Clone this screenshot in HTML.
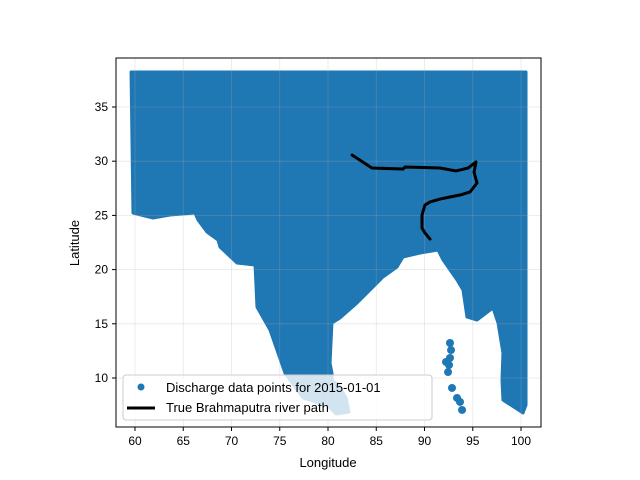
<!DOCTYPE html>
<html><head><meta charset="utf-8"><style>
body{margin:0;background:#fff;}
svg{display:block;font-family:"Liberation Sans","DejaVu Sans",sans-serif;}
</style></head><body>
<svg id="chart" width="640" height="480" viewBox="0 0 640 480" xmlns="http://www.w3.org/2000/svg">
<rect width="640" height="480" fill="#fff"/>
<g id="marks"></g>
<g id="grid"></g>
<g id="river"></g>
<rect x="116" y="58" width="425" height="369" fill="none" stroke="#000" stroke-width="1"/>
<g id="ticks"></g>
<text x="328" y="467" font-size="13" text-anchor="middle">Longitude</text>
<text x="79" y="243" font-size="13" text-anchor="middle" transform="rotate(-90 79 243)">Latitude</text>
<g>
<rect x="123" y="375" width="309" height="45" rx="3" fill="#fff" fill-opacity="0.8" stroke="#ccc"/>
<circle cx="141" cy="387" r="3.5" fill="#1f77b4"/>
<text x="166" y="392" font-size="13">Discharge data points for 2015-01-01</text>
<line x1="127" y1="408" x2="155" y2="408" stroke="#000" stroke-width="3"/>
<text x="166" y="412" font-size="13">True Brahmaputra river path</text>
</g>
</svg>
<script>
const xTicks=[60,65,70,75,80,85,90,95,100];
const yTicks=[10,15,20,25,30,35];
const coastLon=[59.59,100.52,100.52,100.21,98.13,98.03,98.13,97.62,97.10,95.44,94.40,93.99,93.37,91.92,91.40,89.53,87.77,87.15,85.70,84.66,83.01,81.24,80.41,80.21,80.41,80.52,79.38,78.13,77.41,75.54,73.99,72.64,72.44,70.57,68.81,68.60,67.46,66.53,66.22,63.63,61.87,59.79];
const coastLat=[38.23,38.23,7.51,6.77,7.97,9.82,12.31,15.07,16.46,15.35,15.63,18.12,19.04,20.89,21.81,21.53,21.16,20.24,19.32,18.39,16.92,15.54,15.07,11.38,10.46,8.43,7.51,7.97,8.16,10.46,14.43,16.55,20.42,20.61,22.08,22.73,23.47,24.58,25.22,25.04,24.76,25.22];
const lankaLon=[80.21,81.04,81.87,82.18,80.83,79.90,79.79];
const lankaLat=[9.82,9.45,8.16,6.86,6.68,7.51,8.89];
const islandLon=[92.64,92.75,92.64,92.54,92.23,92.44,92.85,93.37,93.68,93.89];
const islandLat=[13.23,12.58,11.85,11.20,11.48,10.55,9.08,8.16,7.79,7.05];
const riverLon=[82.49,84.56,87.77,87.98,91.61,93.26,94.51,95.34,95.13,95.44,94.72,93.68,92.64,91.61,90.57,90.05,89.74,89.74,90.05,90.57];
const riverLat=[30.57,29.37,29.28,29.46,29.37,29.10,29.37,29.93,29.0,27.99,27.16,26.88,26.70,26.51,26.24,25.96,25.04,23.84,23.38,22.82];
const X=v=>135+(v-60)*9.65;
const Y=v=>107-(v-35)*10.84;
const NS="http://www.w3.org/2000/svg";
function mk(tag,attrs,parent){const e=document.createElementNS(NS,tag);for(const k in attrs)e.setAttribute(k,attrs[k]);parent.appendChild(e);return e;}
const grid=document.getElementById('grid'),marks=document.getElementById('marks'),ticks=document.getElementById('ticks'),river=document.getElementById('river');
xTicks.forEach(t=>{
 const g=mk('line',{x1:X(t),x2:X(t),y1:58,y2:427,stroke:'#b0b0b0','stroke-opacity':0.3,'stroke-width':0.8},grid);
 
 
 const l=mk('line',{x1:X(t),x2:X(t),y1:427,y2:431,stroke:'#000'},ticks);
 
 
 const tx=mk('text',{x:X(t),y:445,'font-size':12,'text-anchor':'middle'},ticks);tx.textContent=t;
 
 
});
yTicks.forEach(t=>{
 const g=mk('line',{x1:116,x2:541,y1:Y(t),y2:Y(t),stroke:'#b0b0b0','stroke-opacity':0.3,'stroke-width':0.8},grid);
 
 
 const l=mk('line',{x1:112,x2:116,y1:Y(t),y2:Y(t),stroke:'#000'},ticks);
 
 
 const tx=mk('text',{x:108,y:Y(t)+4,'font-size':12,'text-anchor':'end'},ticks);tx.textContent=t;
 
 
});
function poly(lons,lats,name){
 const p=mk('polygon',{points:lons.map((v,i)=>X(v)+','+Y(lats[i])).join(' '),fill:'#1f77b4',stroke:'#1f77b4','stroke-width':3,'stroke-linejoin':'round'},marks);
 
 
}
poly(coastLon,coastLat,'discharge-points-mainland');
poly(lankaLon,lankaLat,'discharge-points-sri-lanka');
islandLon.forEach((v,i)=>{
 const c=mk('circle',{cx:X(v),cy:Y(islandLat[i]),r:4,fill:'#1f77b4'},marks);
 
 
});
const r=mk('polyline',{points:riverLon.map((v,i)=>X(v)+','+Y(riverLat[i])).join(' '),fill:'none',stroke:'#000','stroke-width':3,'stroke-linejoin':'round','stroke-linecap':'round'},river);


</script>
</body></html>
